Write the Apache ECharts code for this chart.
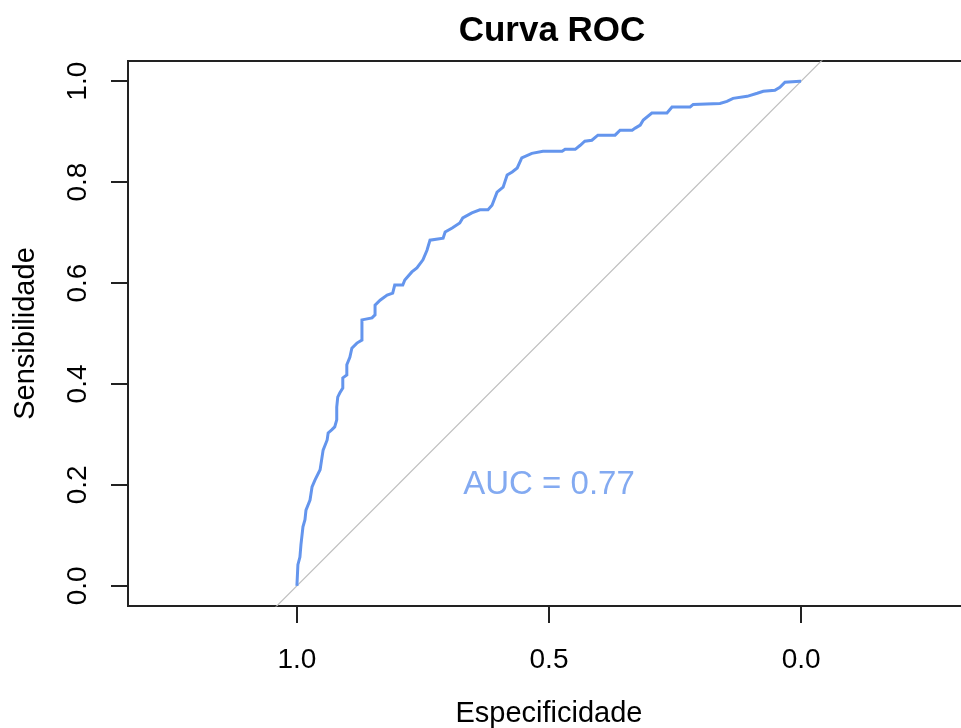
<!DOCTYPE html>
<html>
<head>
<meta charset="utf-8">
<script src="https://cdn.jsdelivr.net/npm/echarts@6/dist/echarts.min.js"></script>
<style>
html,body{margin:0;padding:0;background:#fff;overflow:hidden;}
#chart{width:961px;height:728px;}
</style>
</head>
<body>
<div id="chart"></div>
<script>
// ROC curve points
var specificity = [1.000,0.998,0.994,0.992,0.988,0.984,0.982,0.974,0.970,0.964,0.954,0.948,0.940,0.938,0.931,0.925,0.921,0.921,0.919,0.915,0.909,0.909,0.901,0.901,0.895,0.891,0.881,0.871,0.871,0.851,0.845,0.845,0.835,0.821,0.810,0.806,0.790,0.786,0.772,0.762,0.750,0.742,0.736,0.710,0.706,0.692,0.677,0.671,0.653,0.637,0.621,0.613,0.603,0.591,0.583,0.573,0.563,0.554,0.534,0.512,0.474,0.468,0.448,0.438,0.429,0.415,0.403,0.369,0.359,0.335,0.329,0.319,0.313,0.296,0.266,0.256,0.220,0.214,0.161,0.147,0.135,0.107,0.087,0.075,0.052,0.042,0.032,0.002,0.000];
var sensitivity = [0.000,0.042,0.057,0.081,0.117,0.131,0.150,0.170,0.196,0.210,0.230,0.269,0.289,0.303,0.309,0.315,0.329,0.354,0.374,0.382,0.392,0.412,0.418,0.438,0.453,0.471,0.481,0.487,0.527,0.531,0.537,0.556,0.566,0.576,0.580,0.596,0.596,0.606,0.622,0.630,0.646,0.665,0.685,0.689,0.701,0.709,0.719,0.729,0.739,0.745,0.745,0.754,0.780,0.790,0.814,0.820,0.828,0.848,0.857,0.861,0.861,0.865,0.865,0.873,0.881,0.883,0.893,0.893,0.903,0.903,0.907,0.913,0.923,0.937,0.937,0.949,0.949,0.954,0.956,0.960,0.966,0.970,0.976,0.980,0.982,0.988,0.998,1.000,1.000];
// chance diagonal (sensitivity = 1 - specificity), clipped by the plot box
var diagSpec = [1.5, -0.5];
var diagSens = [-0.5, 1.5];
var xTicks = [0, 0.5, 1];
var yTicks = [0, 0.2, 0.4, 0.6, 0.8, 1.0];
var aucValue = 0.77;
var aucPos = [0.5, 0.2];
var titleText = 'Curva ROC';
var xName = 'Especificidade';
var yName = 'Sensibilidade';

var FONT = "'Liberation Sans', Arial, sans-serif";
var rocData = specificity.map(function (s, i) { return [s, sensitivity[i]]; });
var diagData = diagSpec.map(function (s, i) { return [s, diagSens[i]]; });

var chart = echarts.init(document.getElementById('chart'), null, {renderer: 'canvas'});
chart.setOption({
  backgroundColor: '#fff',
  animation: false,
  title: {
    text: titleText,
    left: 547, top: 9, textAlign: 'center',
    textStyle: {fontFamily: FONT, fontWeight: 'bold', fontSize: 35, color: '#000'}
  },
  grid: {
    left: 128, top: 61, width: 842, height: 545, outerBoundsMode: 'none', containLabel: false,
    show: true, borderColor: '#222', borderWidth: 2, backgroundColor: 'transparent'
  },
  xAxis: {
    type: 'value', inverse: true, min: -0.335, max: 1.335,
    name: xName, nameLocation: 'middle', nameGap: 93,
    nameTextStyle: {fontFamily: FONT, fontSize: 29, color: '#000'},
    axisLine: {show: false, onZero: false},
    splitLine: {show: false},
    axisTick: {show: true, length: 17, customValues: xTicks, lineStyle: {color: '#222', width: 2}},
    axisLabel: {show: true, customValues: xTicks, margin: 40, fontFamily: FONT, fontSize: 28, color: '#000',
      formatter: function (v) { return v.toFixed(1); }}
  },
  yAxis: {
    type: 'value', min: -0.04, max: 1.04,
    name: yName, nameLocation: 'middle', nameGap: 88, nameRotate: 90,
    nameTextStyle: {fontFamily: FONT, fontSize: 29, color: '#000'},
    axisLine: {show: false, onZero: false},
    splitLine: {show: false},
    axisTick: {show: true, length: 17, customValues: yTicks, lineStyle: {color: '#222', width: 2}},
    axisLabel: {show: true, customValues: yTicks, rotate: 90, margin: 36, fontFamily: FONT, fontSize: 28, color: '#000',
      formatter: function (v) { return v.toFixed(1); }}
  },
  series: [
    {type: 'line', data: diagData, showSymbol: false, clip: true, silent: true, lineStyle: {color: '#BEBEBE', width: 1.2}},
    {type: 'line', data: rocData, showSymbol: false, clip: true, silent: true, lineStyle: {color: '#6495ED', width: 3, join: 'miter'}},
    {type: 'scatter', data: [aucPos], symbolSize: 1, silent: true, itemStyle: {color: 'rgba(0,0,0,0)'},
      label: {show: true, position: 'inside', formatter: 'AUC = ' + aucValue.toFixed(2), fontFamily: FONT, fontSize: 33, color: '#6495ED'}}
  ]
});
</script>
</body>
</html>
